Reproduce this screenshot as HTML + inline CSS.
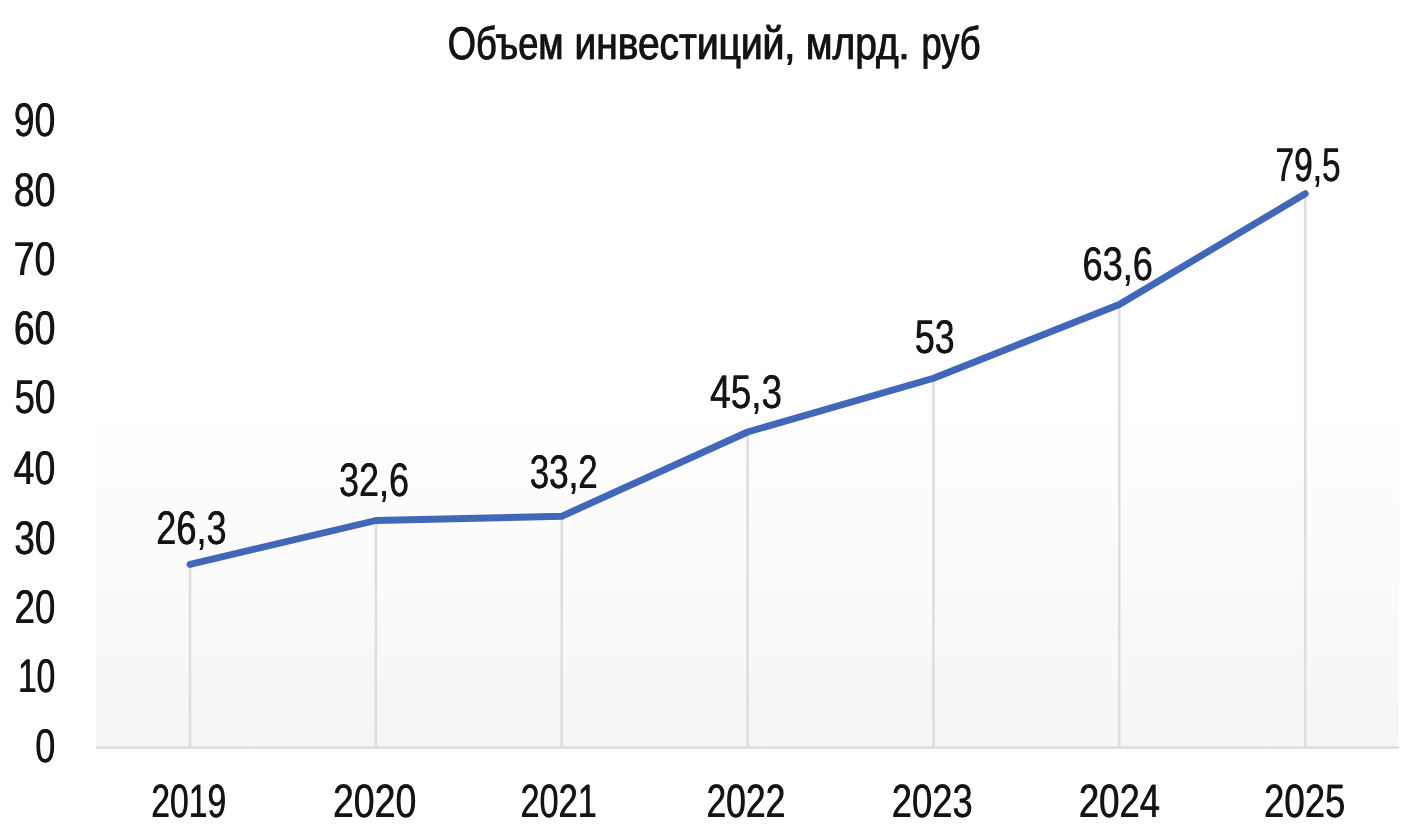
<!DOCTYPE html>
<html lang="ru"><head><meta charset="utf-8"><title>Объем инвестиций, млрд. руб</title>
<style>html,body{margin:0;padding:0;background:#fff;}body{width:1417px;height:829px;overflow:hidden;font-family:"Liberation Sans",sans-serif;}svg{display:block;}text{text-rendering:geometricPrecision;font-family:"Liberation Sans",sans-serif;fill:#141414;}</style></head><body>
<svg width="1417" height="829" viewBox="0 0 1417 829">
<defs><linearGradient id="g" x1="0" y1="0" x2="0" y2="1"><stop offset="0" stop-color="#ffffff"/><stop offset="0.45" stop-color="#ffffff"/><stop offset="1" stop-color="#f6f6f6"/></linearGradient></defs>
<rect x="0" y="0" width="1417" height="829" fill="#ffffff"/>
<rect x="96.0" y="120.6" width="1303.0" height="627.0" fill="url(#g)"/>
<g stroke="#dedede" stroke-width="2.6" fill="none">
<line x1="190.0" y1="564.4" x2="190.0" y2="747.6"/>
<line x1="375.9" y1="520.5" x2="375.9" y2="747.6"/>
<line x1="561.7" y1="516.3" x2="561.7" y2="747.6"/>
<line x1="747.6" y1="432.0" x2="747.6" y2="747.6"/>
<line x1="933.5" y1="378.3" x2="933.5" y2="747.6"/>
<line x1="1119.3" y1="304.5" x2="1119.3" y2="747.6"/>
<line x1="1305.2" y1="193.7" x2="1305.2" y2="747.6"/>
<line x1="96.0" y1="747.6" x2="1399.0" y2="747.6" stroke-width="2.4" stroke="#dadada"/>
</g>
<polyline fill="none" stroke="#4167b8" stroke-width="6.9" stroke-linecap="round" stroke-linejoin="round" points="190.0,564.4 375.9,520.5 561.7,516.3 747.6,432.0 933.5,378.3 1119.3,304.5 1305.2,193.7"/>
<g opacity="0.999">
<g id="t">
<g style="stroke:#141414;stroke-width:0.40px;stroke-linejoin:round" vector-effect="non-scaling-stroke">
<text vector-effect="non-scaling-stroke" transform="translate(447.48,58.70) scale(0.7916,1)" font-size="45.80">Объем</text>
<text vector-effect="non-scaling-stroke" transform="translate(574.18,58.70) scale(0.8496,1)" font-size="45.80">инвестиций,</text>
<text vector-effect="non-scaling-stroke" transform="translate(805.48,58.70) scale(0.8490,1)" font-size="45.80">млрд.</text>
<text vector-effect="non-scaling-stroke" transform="translate(921.24,58.70) scale(0.7915,1)" font-size="45.80">руб</text>
</g>
<g>
<text transform="translate(13.42,135.60) scale(0.7937,1)" font-size="47.20">90</text>
<text transform="translate(13.62,205.50) scale(0.7899,1)" font-size="47.20">80</text>
<text transform="translate(13.32,275.10) scale(0.7957,1)" font-size="47.20">70</text>
<text transform="translate(13.53,343.90) scale(0.7915,1)" font-size="47.20">60</text>
<text transform="translate(14.13,413.30) scale(0.7797,1)" font-size="47.20">50</text>
<text transform="translate(13.36,484.20) scale(0.7950,1)" font-size="47.20">40</text>
<text transform="translate(14.12,553.70) scale(0.7799,1)" font-size="47.20">30</text>
<text transform="translate(14.37,623.00) scale(0.7749,1)" font-size="47.20">20</text>
<text transform="translate(17.80,692.40) scale(0.7073,1)" font-size="47.20">10</text>
<text transform="translate(34.96,761.50) scale(0.7632,1)" font-size="47.20">0</text>
</g>
<g>
<text transform="translate(151.01,817.20) scale(0.7201,1)" font-size="46.80">2019</text>
<text transform="translate(332.63,817.20) scale(0.8007,1)" font-size="46.80">2020</text>
<text transform="translate(520.18,817.20) scale(0.7330,1)" font-size="46.80">2021</text>
<text transform="translate(706.13,817.20) scale(0.7581,1)" font-size="46.80">2022</text>
<text transform="translate(891.48,817.20) scale(0.7775,1)" font-size="46.80">2023</text>
<text transform="translate(1078.58,817.20) scale(0.7790,1)" font-size="46.80">2024</text>
<text transform="translate(1263.67,817.20) scale(0.7826,1)" font-size="46.80">2025</text>
</g>
<g>
<text transform="translate(155.99,543.80) scale(0.7651,1)" font-size="47.20">26,3</text>
<text transform="translate(338.75,496.30) scale(0.7623,1)" font-size="47.20">32,6</text>
<text transform="translate(529.39,487.70) scale(0.7414,1)" font-size="47.20">33,2</text>
<text transform="translate(709.87,407.70) scale(0.7821,1)" font-size="47.20">45,3</text>
<text transform="translate(914.57,353.30) scale(0.7567,1)" font-size="47.20">53</text>
<text transform="translate(1082.19,280.30) scale(0.7663,1)" font-size="47.20">63,6</text>
<text transform="translate(1275.23,181.00) scale(0.7081,1)" font-size="47.20">79,5</text>
</g>
</g>
<use href="#t" x="0.60"/>
</g>
</svg></body></html>
